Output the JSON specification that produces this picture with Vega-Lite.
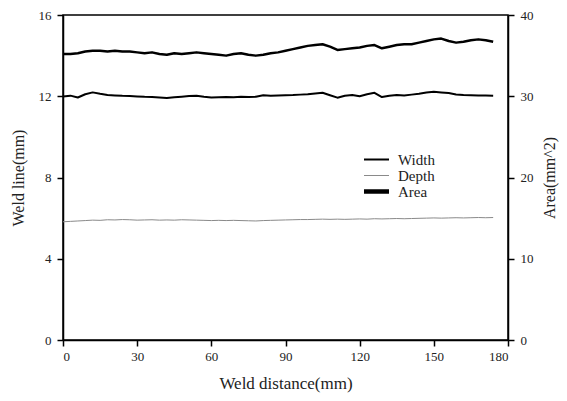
{
  "$schema": "https://vega.github.io/schema/vega-lite/v6.json",
  "autosize": {"type": "none"},
  "padding": {"left": 63, "top": 15, "right": 59, "bottom": 61},
  "width": 445,
  "height": 325,
  "background": "white",
  "view": {"stroke": "black", "strokeWidth": 1.5},
  "config": {
    "font": "Liberation Serif",
    "axis": {"grid": false, "domainColor": "black", "tickColor": "black", "labelColor": "#222", "titleColor": "#222", "labelFont": "Liberation Serif", "titleFont": "Liberation Serif", "labelFontSize": 13, "titleFontSize": 16, "titleFontWeight": "normal", "domainWidth": 1.5, "tickWidth": 1.5, "tickSize": 6}
  },
  "data": {"values": [
    {"d": 0, "Area": 35.2, "Width": 11.99, "Depth": 5.82},
    {"d": 3, "Area": 35.2, "Width": 12.03, "Depth": 5.84},
    {"d": 6, "Area": 35.3, "Width": 11.94, "Depth": 5.86},
    {"d": 9, "Area": 35.5, "Width": 12.10, "Depth": 5.88},
    {"d": 12, "Area": 35.6, "Width": 12.19, "Depth": 5.90},
    {"d": 15, "Area": 35.6, "Width": 12.12, "Depth": 5.89},
    {"d": 18, "Area": 35.5, "Width": 12.06, "Depth": 5.92},
    {"d": 21, "Area": 35.6, "Width": 12.04, "Depth": 5.91},
    {"d": 24, "Area": 35.5, "Width": 12.02, "Depth": 5.93},
    {"d": 27, "Area": 35.5, "Width": 12.01, "Depth": 5.92},
    {"d": 30, "Area": 35.4, "Width": 11.99, "Depth": 5.90},
    {"d": 33, "Area": 35.3, "Width": 11.97, "Depth": 5.91},
    {"d": 36, "Area": 35.4, "Width": 11.96, "Depth": 5.92},
    {"d": 39, "Area": 35.2, "Width": 11.94, "Depth": 5.90},
    {"d": 42, "Area": 35.1, "Width": 11.91, "Depth": 5.91},
    {"d": 45, "Area": 35.3, "Width": 11.95, "Depth": 5.90},
    {"d": 48, "Area": 35.2, "Width": 11.98, "Depth": 5.92},
    {"d": 51, "Area": 35.3, "Width": 12.01, "Depth": 5.91},
    {"d": 54, "Area": 35.4, "Width": 12.03, "Depth": 5.90},
    {"d": 57, "Area": 35.3, "Width": 11.98, "Depth": 5.89},
    {"d": 60, "Area": 35.2, "Width": 11.94, "Depth": 5.88},
    {"d": 63, "Area": 35.1, "Width": 11.95, "Depth": 5.89},
    {"d": 66, "Area": 35.0, "Width": 11.96, "Depth": 5.88},
    {"d": 69, "Area": 35.2, "Width": 11.95, "Depth": 5.89},
    {"d": 72, "Area": 35.3, "Width": 11.97, "Depth": 5.88},
    {"d": 75, "Area": 35.1, "Width": 11.96, "Depth": 5.87},
    {"d": 78, "Area": 35.0, "Width": 11.98, "Depth": 5.86},
    {"d": 81, "Area": 35.1, "Width": 12.05, "Depth": 5.88},
    {"d": 84, "Area": 35.3, "Width": 12.02, "Depth": 5.89},
    {"d": 87, "Area": 35.4, "Width": 12.04, "Depth": 5.90},
    {"d": 90, "Area": 35.6, "Width": 12.05, "Depth": 5.91},
    {"d": 93, "Area": 35.8, "Width": 12.06, "Depth": 5.92},
    {"d": 96, "Area": 36.0, "Width": 12.08, "Depth": 5.93},
    {"d": 99, "Area": 36.2, "Width": 12.10, "Depth": 5.93},
    {"d": 102, "Area": 36.3, "Width": 12.14, "Depth": 5.94},
    {"d": 105, "Area": 36.4, "Width": 12.17, "Depth": 5.95},
    {"d": 108, "Area": 36.1, "Width": 12.05, "Depth": 5.94},
    {"d": 111, "Area": 35.7, "Width": 11.93, "Depth": 5.95},
    {"d": 114, "Area": 35.8, "Width": 12.02, "Depth": 5.94},
    {"d": 117, "Area": 35.9, "Width": 12.06, "Depth": 5.95},
    {"d": 120, "Area": 36.0, "Width": 12.00, "Depth": 5.96},
    {"d": 123, "Area": 36.2, "Width": 12.10, "Depth": 5.95},
    {"d": 126, "Area": 36.3, "Width": 12.17, "Depth": 5.97},
    {"d": 129, "Area": 35.9, "Width": 11.96, "Depth": 5.96},
    {"d": 132, "Area": 36.1, "Width": 12.02, "Depth": 5.97},
    {"d": 135, "Area": 36.3, "Width": 12.06, "Depth": 5.98},
    {"d": 138, "Area": 36.4, "Width": 12.04, "Depth": 5.97},
    {"d": 141, "Area": 36.4, "Width": 12.08, "Depth": 5.98},
    {"d": 144, "Area": 36.6, "Width": 12.12, "Depth": 5.99},
    {"d": 147, "Area": 36.8, "Width": 12.18, "Depth": 6.00},
    {"d": 150, "Area": 37.0, "Width": 12.22, "Depth": 6.01},
    {"d": 153, "Area": 37.1, "Width": 12.19, "Depth": 6.00},
    {"d": 156, "Area": 36.8, "Width": 12.16, "Depth": 6.01},
    {"d": 159, "Area": 36.6, "Width": 12.09, "Depth": 6.02},
    {"d": 162, "Area": 36.7, "Width": 12.06, "Depth": 6.01},
    {"d": 165, "Area": 36.9, "Width": 12.05, "Depth": 6.02},
    {"d": 168, "Area": 37.0, "Width": 12.04, "Depth": 6.03},
    {"d": 171, "Area": 36.9, "Width": 12.04, "Depth": 6.02},
    {"d": 174, "Area": 36.7, "Width": 12.03, "Depth": 6.03}
  ]},
  "encoding": {
    "x": {"field": "d", "type": "quantitative", "scale": {"domain": [0, 180], "nice": false}, "axis": {"values": [0, 30, 60, 90, 120, 150, 180], "title": "Weld distance(mm)", "titleFontSize": 17, "titlePadding": 12, "labelPadding": 4}}
  },
  "layer": [
    {
      "transform": [{"fold": ["Width", "Depth"], "as": ["series", "value"]}],
      "mark": {"type": "line", "strokeJoin": "round"},
      "encoding": {
        "y": {"field": "value", "type": "quantitative", "scale": {"domain": [0, 16], "nice": false}, "axis": {"values": [0, 4, 8, 12, 16], "title": "Weld line(mm)", "titlePadding": 12, "labelPadding": 6}},
        "color": {"field": "series", "type": "nominal", "scale": {"domain": ["Width", "Depth", "Area"], "range": ["black", "#8a8a8a", "black"]},
          "legend": {"title": null, "orient": "none", "legendX": 306, "legendY": 137, "symbolType": "M-2.5,0H2.5", "symbolSize": 100, "labelFontSize": 15, "labelFont": "Liberation Serif", "labelColor": "#222", "labelOffset": 14, "rowPadding": -2,
            "encode": {"symbols": {"update": {"strokeWidth": {"signal": "datum.value === 'Area' ? 4.5 : (datum.value === 'Depth' ? 1 : 2)"}}}}}},
        "strokeWidth": {"field": "series", "type": "ordinal", "scale": {"type": "ordinal", "domain": ["Width", "Depth", "Area"], "range": [2, 1, 4.5]}, "legend": null}
      }
    },
    {
      "transform": [{"fold": ["Area"], "as": ["series", "value"]}],
      "mark": {"type": "line", "strokeJoin": "round"},
      "encoding": {
        "y": {"field": "value", "type": "quantitative", "scale": {"domain": [0, 40], "nice": false}, "axis": {"orient": "right", "values": [0, 10, 20, 30, 40], "title": "Area(mm^2)", "titleAngle": 270, "titlePadding": 24, "labelPadding": 6}},
        "color": {"field": "series", "type": "nominal"},
        "strokeWidth": {"field": "series", "type": "ordinal", "legend": null}
      }
    }
  ],
  "resolve": {"scale": {"y": "independent"}}
}
